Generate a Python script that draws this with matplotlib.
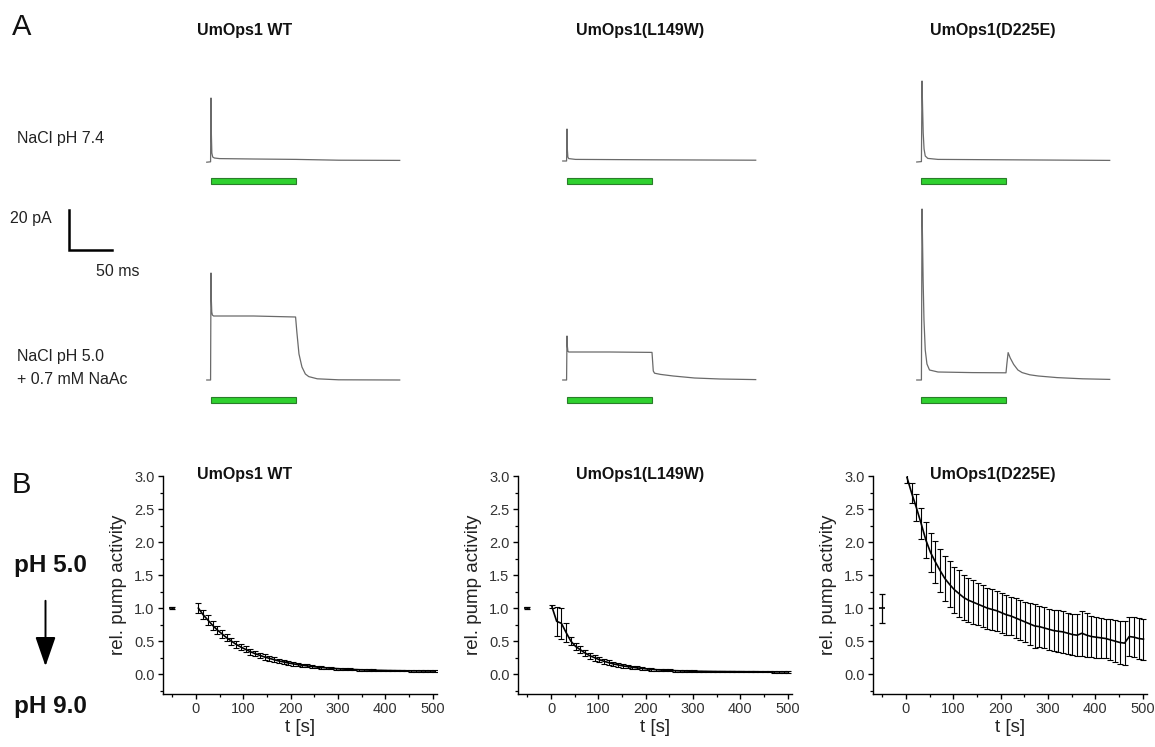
import matplotlib
matplotlib.use('Agg')
import matplotlib.pyplot as plt
from matplotlib.patches import Rectangle
from matplotlib.ticker import MultipleLocator
import numpy as np

plt.rcParams['font.family'] = ['Liberation Sans', 'DejaVu Sans']

# ---------------- data ----------------
constructs = ["UmOps1 WT", "UmOps1(L149W)", "UmOps1(D225E)"]
condition_labels = ["NaCl pH 7.4", "NaCl pH 5.0\n+ 0.7 mM NaAc"]

# Panel A photocurrent traces (time in ms, current in pA)
wt74_t = [-5, -0.5, 0, 0.4, 1.0, 2, 4, 10, 50, 100, 150, 222]
wt74_i = [-0.6, -0.4, 31.5, 14, 4, 2, 1.5, 1.2, 1.0, 0.8, 0.4, 0.3]
wt50_t = [-5, -0.5, 0, 0.4, 0.9, 1.6, 3, 50, 99.5, 101, 103.5, 107, 111, 115, 125, 150, 222]
wt50_i = [0, 0, 53.5, 40, 34, 32.5, 32, 32, 31.5, 24, 13, 6.5, 3, 1.7, 0.6, 0.1, 0]
l149w74_t = [-5, -0.5, 0, 0.4, 1.0, 2, 10, 100, 222]
l149w74_i = [0, 0, 16, 6, 2, 1.2, 0.8, 0.6, 0.4]
l149w50_t = [-5, -0.5, 0, 0.4, 1.0, 2, 50, 100, 101.5, 103, 110, 125, 150, 180, 222]
l149w50_i = [0, 0, 22, 17, 14.5, 14, 14, 13.8, 4.5, 3.4, 2.8, 2.0, 1.0, 0.5, 0.2]
d225e74_t = [-5, 0.5, 1.2, 1.8, 2.6, 3.6, 5, 8, 20, 100, 222]
d225e74_i = [-0.5, -0.3, 40, 28, 14, 6, 2.5, 1.3, 0.8, 0.6, 0.3]
d225e50_t = [-5, 0.5, 1.2, 1.8, 2.5, 3.5, 5, 7, 10, 20, 60, 100, 101, 102.5, 105, 109, 114, 119, 128, 138, 160, 190, 222]
d225e50_i = [0, 0, 85.5, 70, 50, 30, 15, 8, 5, 4, 3.7, 3.6, 8, 13.7, 11, 7.8, 5, 3.7, 2.6, 2.0, 1.2, 0.6, 0.3]

light_on_ms = 0
light_off_ms = 100

# Panel B relative pump activity
ref_t = -50
wt_ref, wt_ref_err = 1.0, 0.02
l149w_ref, l149w_ref_err = 1.0, 0.01
d225e_ref, d225e_ref_err = 1.0, 0.22

wt_t = list(range(5, 506, 10))
wt_v = [1.00, 0.90, 0.82, 0.74, 0.67, 0.61, 0.55, 0.50, 0.45, 0.41,
        0.375, 0.34, 0.31, 0.285, 0.26, 0.24, 0.22, 0.20, 0.185, 0.17,
        0.157, 0.145, 0.135, 0.125, 0.117, 0.109, 0.102, 0.096, 0.09, 0.085,
        0.08, 0.076, 0.073, 0.07, 0.067, 0.064, 0.062, 0.06, 0.058, 0.057,
        0.055, 0.054, 0.053, 0.052, 0.051, 0.05, 0.05, 0.049, 0.048, 0.048, 0.047]
wt_e = [0.07, 0.07, 0.07, 0.065, 0.06, 0.06, 0.055, 0.055, 0.05, 0.05,
        0.045, 0.045, 0.04, 0.04, 0.04, 0.035, 0.035, 0.03, 0.03, 0.03,
        0.028, 0.026, 0.024, 0.022, 0.02, 0.02, 0.018, 0.018, 0.016, 0.016,
        0.015, 0.015, 0.014, 0.014, 0.013, 0.013, 0.012, 0.012, 0.012, 0.011,
        0.011, 0.011, 0.01, 0.01, 0.01, 0.01, 0.01, 0.01, 0.01, 0.01, 0.01]

l149w_t = list(range(2, 503, 10))
l149w_v = [1.02, 0.80, 0.77, 0.63, 0.50, 0.42, 0.37, 0.32, 0.28, 0.25,
           0.22, 0.195, 0.175, 0.155, 0.14, 0.125, 0.115, 0.105, 0.095, 0.088,
           0.08, 0.074, 0.068, 0.063, 0.059, 0.056, 0.053, 0.05, 0.048, 0.046,
           0.045, 0.044, 0.043, 0.042, 0.041, 0.04, 0.04, 0.039, 0.039, 0.038,
           0.038, 0.037, 0.037, 0.037, 0.036, 0.036, 0.036, 0.035, 0.035, 0.035, 0.035]
l149w_e = [0.02, 0.22, 0.23, 0.14, 0.06, 0.05, 0.05, 0.05, 0.045, 0.045,
           0.04, 0.04, 0.035, 0.035, 0.03, 0.03, 0.028, 0.026, 0.024, 0.022,
           0.02, 0.02, 0.018, 0.018, 0.016, 0.015, 0.014, 0.013, 0.012, 0.012,
           0.011, 0.01, 0.01, 0.01, 0.01, 0.01, 0.01, 0.01, 0.01, 0.01,
           0.01, 0.01, 0.01, 0.01, 0.01, 0.01, 0.01, 0.01, 0.01, 0.01, 0.01]

d225e_t = list(range(2, 503, 10))
d225e_v = [2.98, 2.74, 2.52, 2.28, 2.03, 1.84, 1.70, 1.57, 1.45, 1.36,
           1.28, 1.22, 1.16, 1.12, 1.09, 1.06, 1.03, 1.00, 0.98, 0.96,
           0.93, 0.90, 0.88, 0.85, 0.82, 0.79, 0.76, 0.73, 0.72, 0.70,
           0.68, 0.66, 0.65, 0.64, 0.62, 0.60, 0.59, 0.62, 0.59, 0.57,
           0.56, 0.55, 0.54, 0.52, 0.50, 0.48, 0.47, 0.57, 0.56, 0.54, 0.53]
d225e_e = [0.08, 0.15, 0.20, 0.24, 0.27, 0.30, 0.32, 0.33, 0.34, 0.35,
           0.35, 0.35, 0.34, 0.33, 0.33, 0.32, 0.32, 0.31, 0.31, 0.30,
           0.30, 0.30, 0.29, 0.30, 0.30, 0.31, 0.32, 0.33, 0.31, 0.31,
           0.31, 0.31, 0.32, 0.32, 0.31, 0.31, 0.32, 0.34, 0.33, 0.31,
           0.31, 0.30, 0.30, 0.31, 0.32, 0.33, 0.33, 0.30, 0.30, 0.31, 0.31]

# ---------------- figure ----------------
W, H = 1155, 747
fig = plt.figure(figsize=(W / 100, H / 100), dpi=100)


def px_axes(x0, y0, x1, y1):
    return fig.add_axes([x0 / W, 1 - y1 / H, (x1 - x0) / W, (y1 - y0) / H])


def ftext(x, y, s, **kw):
    fig.text(x / W, 1 - y / H, s, **kw)


# Panel A layout: 0.85 px per ms, 2 px per pA
PX_MS, PX_PA = 0.85, 2.0
T0, T1 = -10, 230
I0, I1 = -15, 95
col_onset_px = [211, 567, 921]
row_base_px = [161, 380]

traces = [
    [(wt74_t, wt74_i), (wt50_t, wt50_i)],
    [(l149w74_t, l149w74_i), (l149w50_t, l149w50_i)],
    [(d225e74_t, d225e74_i), (d225e50_t, d225e50_i)],
]

for c in range(3):
    for r in range(2):
        x0 = col_onset_px[c] + T0 * PX_MS
        x1 = col_onset_px[c] + T1 * PX_MS
        y1 = row_base_px[r] - I0 * PX_PA
        y0 = row_base_px[r] - I1 * PX_PA
        ax = px_axes(x0, y0, x1, y1)
        ax.set_xlim(T0, T1)
        ax.set_ylim(I0, I1)
        ax.axis('off')
        t, i = traces[c][r]
        ax.plot(t, i, color='#6a6a6a', lw=0.9)
        ax.add_patch(Rectangle((light_on_ms, -11.5), light_off_ms - light_on_ms, 2.8,
                               facecolor='#2fd12f', edgecolor='#2a7d2a', lw=0.8))

# scale bar axes (same scale as traces)
sb = px_axes(69 - 10 * PX_MS, 250 - 40 - 10 * PX_PA, 69 + 60 * PX_MS, 250 + 5 * PX_PA)
sb.set_xlim(-10, 60)
sb.set_ylim(-5, 30)
sb.axis('off')
sb.plot([0, 0, 50], [20, 0, 0], color='black', lw=1.8, solid_joinstyle='miter')
ftext(10.5, 223.5, "20 pA", fontsize=11.5, ha='left', va='baseline', color='#222')
ftext(96.5, 276.5, "50 ms", fontsize=11.5, ha='left', va='baseline', color='#222')

ftext(17, 143.5, condition_labels[0], fontsize=11.5, ha='left', va='baseline', color='#222')
ftext(17, 361.5, "NaCl pH 5.0", fontsize=11.5, ha='left', va='baseline', color='#222')
ftext(17, 383.5, "+ 0.7 mM NaAc", fontsize=11.5, ha='left', va='baseline', color='#222')

title_x = [244.5, 640, 993]
for c in range(3):
    ftext(title_x[c], 35, constructs[c], fontsize=11.5, fontweight='bold',
          ha='center', va='baseline', color='#111')
    ftext(title_x[c], 479, constructs[c], fontsize=11.5, fontweight='bold',
          ha='center', va='baseline', color='#111')

ftext(12, 35, "A", fontsize=21, ha='left', va='baseline', color='#111')
ftext(12, 493, "B", fontsize=21, ha='left', va='baseline', color='#111')

ftext(14, 572, "pH 5.0", fontsize=17.5, fontweight='bold', ha='left', va='baseline', color='#111')
ftext(14, 713.5, "pH 9.0", fontsize=17.5, fontweight='bold', ha='left', va='baseline', color='#111')
fig.add_artist(matplotlib.patches.FancyArrowPatch(
    (45.5 / W, 1 - 598 / H), (45.5 / W, 1 - 669 / H), transform=fig.transFigure,
    arrowstyle='-|>,head_length=1.3,head_width=0.45', mutation_scale=14,
    color='black', lw=1.4))

# Panel B axes
PX_S = 0.473
zero_px = [196, 551, 906]
Y_TOP, Y_BOT = 476, 694
XMIN, XMAX = -70, 510
b_data = [
    (wt_ref, wt_ref_err, wt_t, wt_v, wt_e),
    (l149w_ref, l149w_ref_err, l149w_t, l149w_v, l149w_e),
    (d225e_ref, d225e_ref_err, d225e_t, d225e_v, d225e_e),
]
for c in range(3):
    ax = px_axes(zero_px[c] + XMIN * PX_S, Y_TOP, zero_px[c] + XMAX * PX_S, Y_BOT)
    ref, ref_e, t, v, e = b_data[c]
    ax.errorbar([ref_t], [ref], yerr=[ref_e], fmt='none', ecolor='black',
                elinewidth=0.9, capsize=2.5, capthick=0.9)
    ax.plot([ref_t], [ref], marker='_', color='black', ms=4, mew=1.2)
    ax.errorbar(t, v, yerr=e, fmt='none', ecolor='black', elinewidth=0.8,
                capsize=2.3, capthick=0.8)
    ax.plot(t, v, color='black', lw=1.2)
    ax.set_xlim(XMIN, XMAX)
    ax.set_ylim(-0.3, 3.0)
    ax.spines['top'].set_visible(False)
    ax.spines['right'].set_visible(False)
    for s in ('left', 'bottom'):
        ax.spines[s].set_linewidth(1.0)
    ax.xaxis.set_major_locator(MultipleLocator(100))
    ax.xaxis.set_minor_locator(MultipleLocator(50))
    ax.yaxis.set_major_locator(MultipleLocator(0.5))
    ax.yaxis.set_minor_locator(MultipleLocator(0.25))
    ax.set_xticks([0, 100, 200, 300, 400, 500])
    ax.set_yticks([0.0, 0.5, 1.0, 1.5, 2.0, 2.5, 3.0])
    ax.set_yticklabels(['0.0', '0.5', '1.0', '1.5', '2.0', '2.5', '3.0'])
    ax.tick_params(which='major', direction='out', length=3.5, width=1.0,
                   labelsize=10.5, labelcolor='#333', pad=2.5)
    ax.tick_params(which='minor', direction='out', length=2, width=0.9)
    ax.set_xlabel("t [s]", fontsize=13.5, color='#222', labelpad=2)
    ax.set_ylabel("rel. pump activity", fontsize=13.5, color='#222', labelpad=5)
    ax.patch.set_alpha(0)

fig.savefig("out.png", dpi=100)
